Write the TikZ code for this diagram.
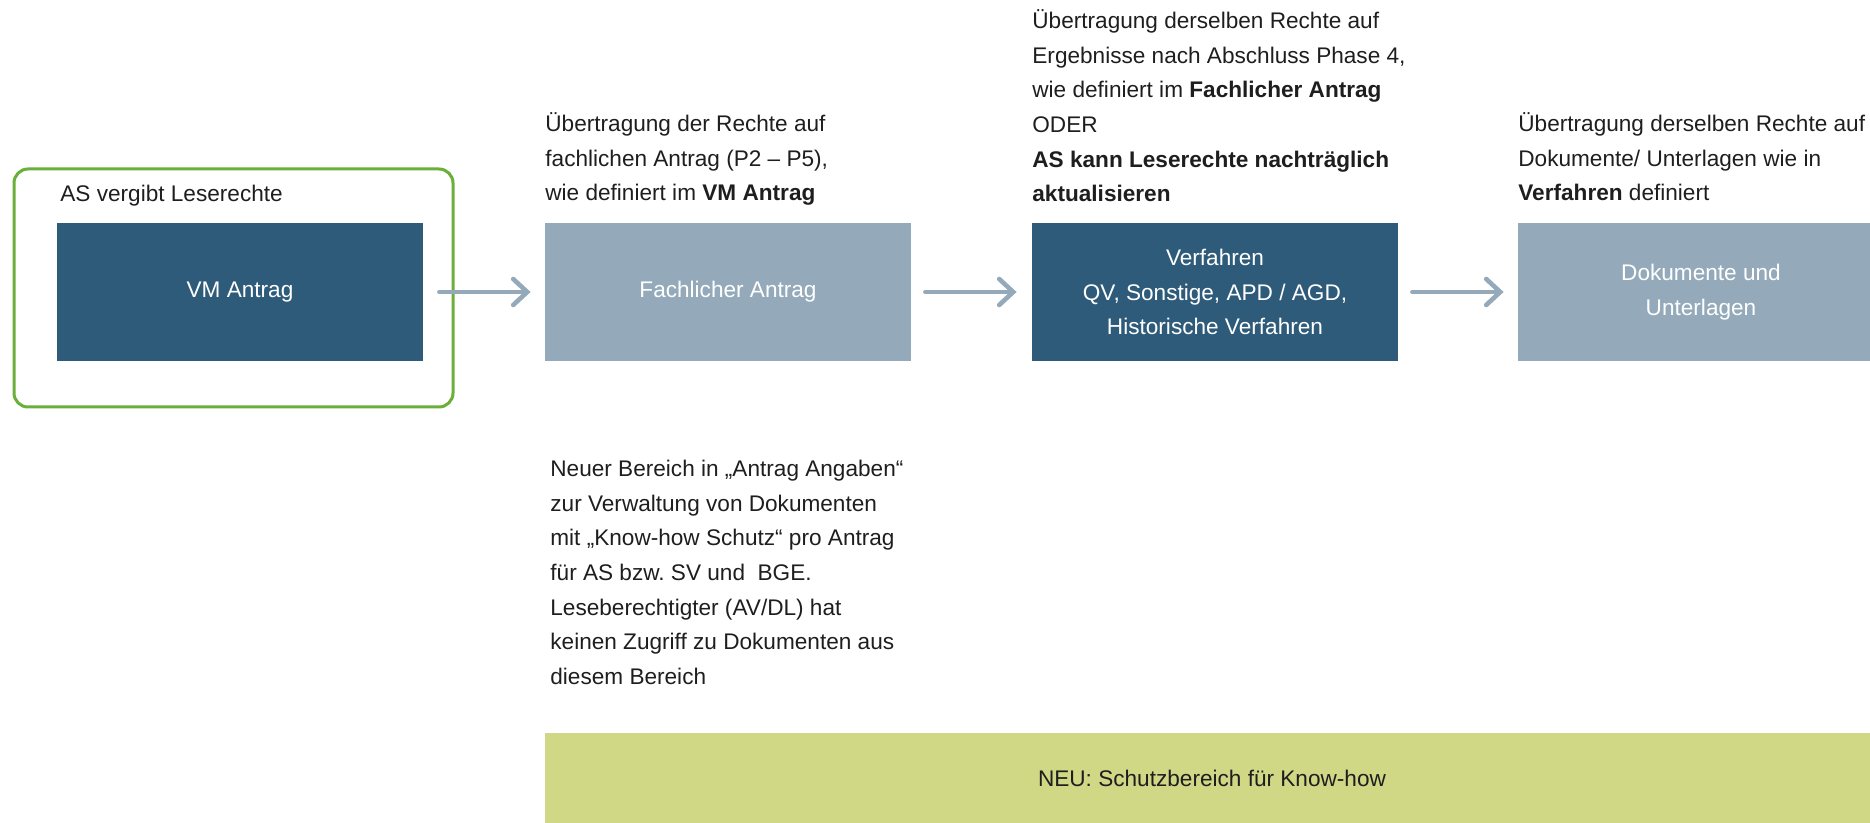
\documentclass[tikz,border=0pt]{standalone}
\usepackage{fontspec}
\setmainfont{Liberation Sans}
\usetikzlibrary{arrows.meta}
\frenchspacing
\definecolor{darkbox}{HTML}{2E5B7A}
\definecolor{lightbox}{HTML}{94AABA}
\definecolor{frameg}{HTML}{6AAF3A}
\definecolor{barg}{HTML}{D0D886}
\definecolor{txtc}{HTML}{1E1E1E}
\tikzset{
  basefont/.style={font=\fontsize{11.3pt}{17.3pt}\selectfont},
  stagebox/.style={basefont, rectangle, minimum width=183pt, minimum height=69pt, inner sep=0pt, align=center, text=white},
  darkstage/.style={stagebox, fill=darkbox},
  lightstage/.style={stagebox, fill=lightbox},
  note/.style={basefont, anchor=north west, inner sep=0pt, align=left, text=txtc},
  flow/.style={draw=lightbox, line width=2.3pt, line cap=round, -{Straight Barb[length=7pt,width=13pt,line cap=round]}}
}
\begin{document}
\begin{tikzpicture}[x=0.5pt,y=-0.5pt]
\useasboundingbox (0,0) rectangle (1870,823);
\clip (0,0) rectangle (1870,823);
% green frame
\draw[frameg, line width=1.5pt, rounded corners=7pt] (14,169) rectangle (453,407);
\node[basefont, anchor=base west, inner sep=0pt, text=txtc] (asl) at (60,201.5) {AS vergibt Leserechte};
% stages
\node[darkstage] (vm) at (240,292) {VM Antrag};
\node[lightstage] (fach) at (728,292) {Fachlicher Antrag};
\node[darkstage] (verf) at (1215,292) {\raisebox{-1pt}{\parbox{180pt}{\centering Verfahren\\QV, Sonstige, APD / AGD,\\Historische Verfahren}}};
\node[lightstage] (doku) at (1701,292) {Dokumente und\\Unterlagen};
% arrows
\draw[flow, shorten <=8pt, shorten >=7pt] (vm.east) -- (fach.west);
\draw[flow, shorten <=7pt, shorten >=7.5pt] (fach.east) -- (verf.west);
\draw[flow, shorten <=7pt, shorten >=7pt] (verf.east) -- (doku.west);
% notes
\node[note] (n1) at (545,107) {\strut Übertragung der Rechte auf\\fachlichen Antrag (P2 – P5),\\wie definiert im \textbf{VM Antrag}};
\node[note] (n2) at (1032,4) {\strut Übertragung derselben Rechte auf\\Ergebnisse nach Abschluss Phase 4,\\wie definiert im \textbf{Fachlicher Antrag}\\ODER\\\textbf{AS kann Leserechte nachträglich}\\\textbf{aktualisieren}};
\node[note] (n3) at (1518,107) {\strut Übertragung derselben Rechte auf\\Dokumente/ Unterlagen wie in\\\textbf{Verfahren} definiert};
\node[note] (n4) at (550,452) {\strut Neuer Bereich in „Antrag Angaben“\\zur Verwaltung von Dokumenten\\mit „Know-how Schutz“ pro Antrag\\für AS bzw. SV und\ \ BGE.\\Leseberechtigter (AV/DL) hat\\keinen Zugriff zu Dokumenten aus\\diesem Bereich};
% green bar
\node[basefont, fill=barg, minimum width=670pt, minimum height=45pt, inner sep=0pt, anchor=north west, text=txtc] (bar) at (545,733) {};
\node[basefont, text=txtc, inner sep=0pt] (bartxt) at (1212,778) {NEU: Schutzbereich für Know-how};
\end{tikzpicture}
\end{document}
